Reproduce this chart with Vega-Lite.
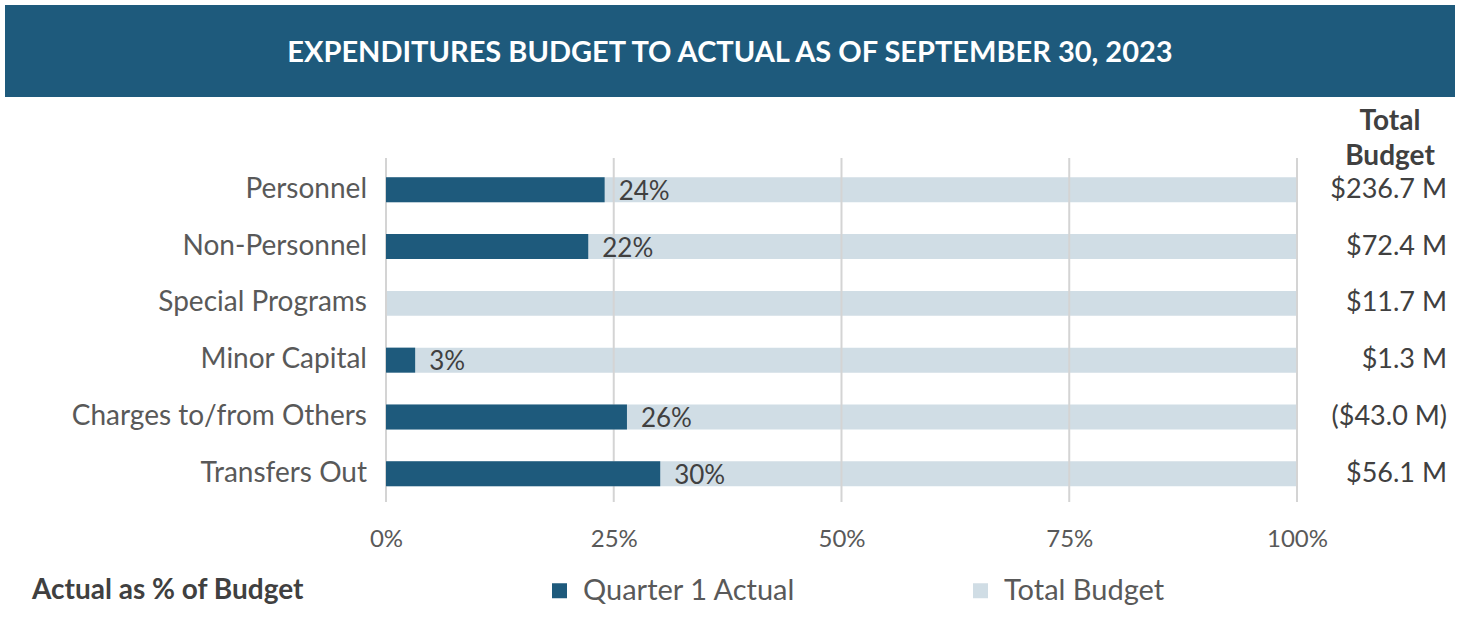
{
  "$schema": "https://vega.github.io/schema/vega-lite/v6.json",
  "background": "white",
  "padding": {"left": 5, "top": 5, "right": 6, "bottom": 0},
  "spacing": 11,
  "config": {"font": "Lato"},
  "vconcat": [
    {
      "width": 1450,
      "height": 92,
      "view": {"fill": "#1e5a7c", "stroke": null},
      "data": {"values": [{"t": "EXPENDITURES  BUDGET TO ACTUAL AS OF SEPTEMBER 30, 2023"}]},
      "mark": {"type": "text", "color": "white", "fontSize": 29, "fontWeight": "bold", "font": "Lato", "baseline": "middle", "align": "center", "dy": 2},
      "encoding": {"text": {"field": "t"}}
    },
    {
      "width": 1450,
      "height": 344,
      "view": {"stroke": null},
      "title": {"text": ["Total", "Budget"], "anchor": "end", "align": "center", "dx": -65, "fontSize": 28, "fontWeight": "bold", "color": "#404040", "lineHeight": 35, "offset": -14, "font": "Lato"},
      "data": {"values": [
        {"cat": "Personnel", "pct": 0.240, "budget": "$236.7 M"},
        {"cat": "Non-Personnel", "pct": 0.222, "budget": "$72.4 M"},
        {"cat": "Special Programs", "pct": 0, "budget": "$11.7 M"},
        {"cat": "Minor Capital", "pct": 0.032, "budget": "$1.3 M"},
        {"cat": "Charges to/from Others", "pct": 0.2645, "budget": "($43.0 M)"},
        {"cat": "Transfers Out", "pct": 0.301, "budget": "$56.1 M"}
      ]},
      "layer": [
        {
          "mark": {"type": "bar"},
          "encoding": {
            "y": {"field": "cat", "type": "nominal", "sort": null, "axis": null, "scale": {"paddingInner": 0.56, "paddingOuter": 0.31, "align": 0.55}},
            "x": {"datum": 0, "type": "quantitative", "scale": {"domain": [-0.41822, 1.17344], "nice": false, "zero": false},
                  "axis": {"values": [0, 0.25, 0.5, 0.75, 1], "format": ".0%", "grid": false, "domain": false, "ticks": false, "labelFontSize": 24, "labelColor": "#595959", "labelPadding": 25, "labelFlush": false, "title": null, "labelFont": "Lato"}},
            "x2": {"datum": 1},
            "color": {"datum": "Total Budget", "type": "nominal",
                      "scale": {"domain": ["Quarter 1 Actual", "Total Budget"], "range": ["#1e5a7c", "#d0dde5"]},
                      "legend": {"orient": "none", "legendX": 27, "legendY": 571, "direction": "horizontal", "titleOrient": "left", "title": "Actual as % of Budget", "titleFontSize": 28, "titleFontWeight": "bold", "titleColor": "#404040", "titleFont": "Lato", "titleLimit": 500, "titlePadding": 240, "titleBaseline": "middle", "labelFontSize": 29, "labelColor": "#595959", "labelFont": "Lato", "labelLimit": 500, "labelOffset": 9, "columnPadding": 170, "symbolType": "square", "symbolSize": 225, "symbolStrokeWidth": 0}}
          }
        },
        {
          "data": {"values": [{"g": 0}, {"g": 0.25}, {"g": 0.5}, {"g": 0.75}, {"g": 1}]},
          "mark": {"type": "rule", "color": "#d4d4d4", "strokeWidth": 2},
          "encoding": {"x": {"field": "g", "type": "quantitative"}}
        },
        {
          "mark": {"type": "bar"},
          "encoding": {
            "y": {"field": "cat", "type": "nominal", "sort": null},
            "x": {"field": "pct", "type": "quantitative"},
            "x2": {"datum": 0},
            "color": {"datum": "Quarter 1 Actual", "type": "nominal"}
          }
        },
        {
          "transform": [{"filter": "datum.pct > 0"}],
          "mark": {"type": "text", "align": "left", "baseline": "middle", "dx": 14, "dy": 2, "fontSize": 26, "color": "#404040", "font": "Lato"},
          "encoding": {
            "y": {"field": "cat", "type": "nominal", "sort": null},
            "x": {"field": "pct", "type": "quantitative"},
            "text": {"field": "pct", "type": "quantitative", "format": ".0%"}
          }
        },
        {
          "mark": {"type": "text", "align": "right", "baseline": "middle", "dx": -19, "fontSize": 28, "color": "#595959", "font": "Lato"},
          "encoding": {
            "y": {"field": "cat", "type": "nominal", "sort": null},
            "x": {"datum": 0, "type": "quantitative"},
            "text": {"field": "cat", "type": "nominal"}
          }
        },
        {
          "mark": {"type": "text", "align": "right", "baseline": "middle", "dx": 150, "fontSize": 27, "color": "#404040", "font": "Lato"},
          "encoding": {
            "y": {"field": "cat", "type": "nominal", "sort": null},
            "x": {"datum": 1, "type": "quantitative"},
            "text": {"field": "budget", "type": "nominal"}
          }
        }
      ]
    }
  ]
}
